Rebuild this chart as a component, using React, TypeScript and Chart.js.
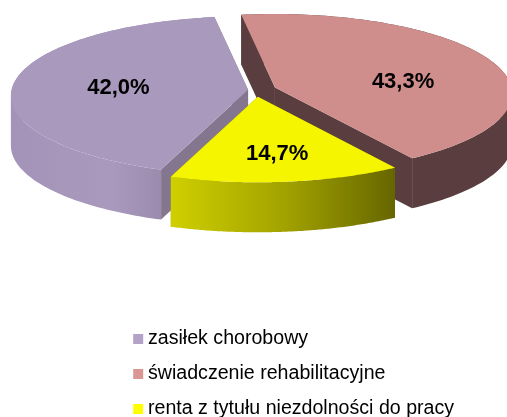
import React, { useEffect, useRef } from "react";
import { Chart, registerables } from "chart.js";

Chart.register(...registerables);

const categories = ["zasiłek chorobowy", "świadczenie rehabilitacyjne", "renta z tytułu niezdolności do pracy"];
const shares = [42.0, 43.3, 14.7];
const percentLabels = ["42,0%", "43,3%", "14,7%"];
const startRotation = 200;

const legendColors = ["#B3A2C7", "#D99694", "#FFFF00"];
const topColors = ["#A99ABD", "#CF8E8B", "#F5F500"];
const radialWallColors = ["#84768F", "#5A3D3E", "#8F8F00"];
const outerWallStops = [
  ["#A493B8", "#A99ABD", "#8B7C9E"],
  ["#5A3D3E", "#5A3D3E", "#5A3D3E"],
  ["#CFCF00", "#A3A300", "#666600"],
];
const explode = [0.0315, 0.088, 0.0875];
const labelFraction = [0.55, 0.55, 0.69];
const labelAngleShift = [-2.6, 13, 0];
const drawOrder = [1, 0, 2];

const CX = 255.5, CY = 90, A = 236.5, B = 79, K = 0.075, DEPTH = 50;

const project = (ou: number, ov: number, u: number, v: number) => {
  const w = 1 - K * v;
  return { x: CX + A * ou + (A * u) / w, y: CY + B * ov + (B * v) / w };
};

const pie3d = {
  id: "pie3d",
  afterLayout(chart: any) {
    const lg = chart.legend;
    if (lg) {
      const h = lg.height, wd = lg.width;
      lg.left = 122.8;
      lg.right = lg.left + wd;
      lg.top = 313.8;
      lg.bottom = lg.top + h;
    }
  },
  beforeDatasetsDraw(chart: any) {
    const ctx = chart.ctx;
    const arcs = chart.getDatasetMeta(0).data;
    for (const i of drawOrder) {
      const arc = arcs[i];
      const s = arc.startAngle, e = arc.endAngle, mid = (s + e) / 2;
      const ou = explode[i] * Math.cos(mid), ov = explode[i] * Math.sin(mid);
      const apex = project(ou, ov, 0, 0);
      const pts: { x: number; y: number }[] = [];
      const n = 120;
      for (let k = 0; k <= n; k++) {
        const t = s + ((e - s) * k) / n;
        pts.push(project(ou, ov, Math.cos(t), Math.sin(t)));
      }
      const first = pts[0], last = pts[n];
      ctx.save();
      ctx.fillStyle = radialWallColors[i];
      for (const p of [first, last]) {
        ctx.beginPath();
        ctx.moveTo(apex.x, apex.y);
        ctx.lineTo(p.x, p.y);
        ctx.lineTo(p.x, p.y + DEPTH);
        ctx.lineTo(apex.x, apex.y + DEPTH);
        ctx.closePath();
        ctx.fill();
      }
      const xs = pts.map((p) => p.x);
      const g = ctx.createLinearGradient(Math.min(...xs), 0, Math.max(...xs), 0);
      outerWallStops[i].forEach((c, idx) => g.addColorStop(idx / 2, c));
      ctx.fillStyle = g;
      // Split the rim where its horizontal direction turns, so each wall piece is a simple polygon.
      const runs: { x: number; y: number }[][] = [];
      let run = [pts[0]];
      for (let k = 1; k <= n; k++) {
        run.push(pts[k]);
        if (k < n && (pts[k].x - pts[k - 1].x) * (pts[k + 1].x - pts[k].x) < 0) {
          runs.push(run);
          run = [pts[k]];
        }
      }
      runs.push(run);
      for (const r of runs) {
        ctx.beginPath();
        r.forEach((p, k) => (k ? ctx.lineTo(p.x, p.y) : ctx.moveTo(p.x, p.y)));
        for (let k = r.length - 1; k >= 0; k--) ctx.lineTo(r[k].x, r[k].y + DEPTH);
        ctx.closePath();
        ctx.fill();
      }
      ctx.fillStyle = topColors[i];
      ctx.beginPath();
      ctx.moveTo(apex.x, apex.y);
      pts.forEach((p) => ctx.lineTo(p.x, p.y));
      ctx.closePath();
      ctx.fill();
      ctx.restore();
    }
    return false;
  },
  afterDraw(chart: any) {
    const ctx = chart.ctx;
    const arcs = chart.getDatasetMeta(0).data;
    ctx.save();
    ctx.font = "bold 22px 'Liberation Sans'";
    ctx.fillStyle = "#000";
    ctx.textAlign = "center";
    ctx.textBaseline = "middle";
    arcs.forEach((arc: any, i: number) => {
      const mid = (arc.startAngle + arc.endAngle) / 2;
      const la = mid + (labelAngleShift[i] * Math.PI) / 180;
      const p = project(
        explode[i] * Math.cos(mid),
        explode[i] * Math.sin(mid),
        labelFraction[i] * Math.cos(la),
        labelFraction[i] * Math.sin(la)
      );
      ctx.fillText(percentLabels[i], p.x, p.y);
    });
    ctx.restore();
  },
};

export default function App() {
  const ref = useRef<HTMLCanvasElement>(null);
  useEffect(() => {
    const chart = new Chart(ref.current as HTMLCanvasElement, {
      type: "pie",
      data: {
        labels: categories,
        datasets: [{ data: shares, backgroundColor: legendColors, borderWidth: 0 }],
      },
      options: {
        animation: false,
        responsive: false,
        rotation: startRotation,
        layout: { padding: 0 },
        plugins: {
          tooltip: { enabled: false },
          legend: {
            position: "left",
            align: "start",
            maxWidth: 360,
            labels: {
              usePointStyle: true,
              pointStyle: "rect",
              boxWidth: 0.01,
              boxHeight: 10,
              padding: 15.4,
              color: "#000",
              font: { family: "'Liberation Sans'", size: 19.6 },
            },
          },
        },
      },
      plugins: [pie3d],
    } as any);
    return () => chart.destroy();
  }, []);
  return (
    <div style={{ position: "fixed", left: 0, top: 0, width: 507, height: 417, background: "#fff" }}>
      <canvas ref={ref} width={507} height={417} style={{ display: "block" }} />
    </div>
  );
}
